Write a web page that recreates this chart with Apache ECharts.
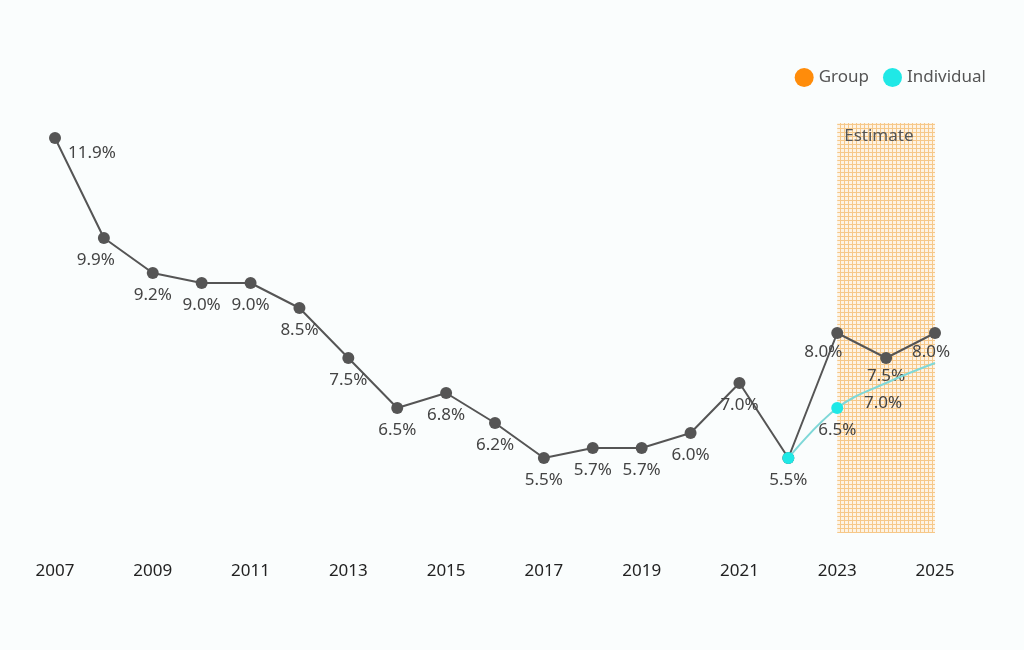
<!DOCTYPE html>
<html>
<head>
<meta charset="utf-8">
<script src="https://cdn.jsdelivr.net/npm/echarts@6/dist/echarts.min.js"></script>
<style>
  html, body { margin: 0; padding: 0; background: #fafdfd; }
  #chart { width: 1024px; height: 650px; }
</style>
</head>
<body>
<div id="chart"></div>
<script>
// years on the x axis
const years = ['2007', '2008', '2009', '2010', '2011', '2012', '2013', '2014', '2015', '2016',
  '2017', '2018', '2019', '2020', '2021', '2022', '2023', '2024', '2025']
// group rate (%)
const groupValues = [11.9, 9.9, 9.2, 9.0, 9.0, 8.5, 7.5, 6.5, 6.8, 6.2, 5.5, 5.7, 5.7, 6.0, 7.0, 5.5, 8.0, 7.5, 8.0]
// individual rate (%), only from 2022
const individualValues = [null, null, null, null, null, null, null, null, null, null,
  null, null, null, null, null, 5.5, 6.5, 7.0, 7.4]
// estimate band
const estimateFrom = '2023'
const estimateTo = '2025'

// orange grid pattern for the estimate band
const makePattern = () => {
  const c = document.createElement('canvas')
  c.width = 4
  c.height = 4
  const ctx = c.getContext('2d')
  ctx.fillStyle = '#fdf3e4'
  ctx.fillRect(0, 0, 4, 4)
  ctx.fillStyle = '#f6c889'
  ctx.fillRect(0, 0, 4, 1)
  ctx.fillRect(0, 0, 1, 4)
  return c
}

const chart = echarts.init(document.getElementById('chart'))
const fmt = (p) => p.value.toFixed(1) + '%'
const labelStyle = { show: true, position: 'bottom', distance: 8, color: '#444', fontSize: 17, fontFamily: 'Noto Sans', formatter: fmt }

// group points, some labels nudged like the original
const groupData = groupValues.map((v, i) => {
  if (i === 0) return { value: v, label: { offset: [37, -7] } }
  if (i === 1) return { value: v, label: { offset: [-8, 0] } }
  if (i === 16) return { value: v, label: { offset: [-14, -3] } }
  if (i === 17) return { value: v, label: { offset: [0, -4] } }
  if (i === 18) return { value: v, label: { offset: [-4, -3] } }
  return v
})
// individual points: no label at 2022 (shared with group), no markers after 2023
const individualData = individualValues.map((v, i) => {
  if (i === 15) return { value: v, label: { show: false } }
  if (i === 17) return { value: v, symbolSize: 0, label: { offset: [-3, 4] } }
  if (i === 18) return { value: v, symbolSize: 0, label: { show: false } }
  return v
})

const option = {
  backgroundColor: '#fafdfd',
  textStyle: { fontFamily: 'Noto Sans' },
  legend: {
    top: 63,
    right: 33,
    icon: 'circle',
    itemWidth: 19,
    itemHeight: 19,
    itemGap: 14,
    textStyle: { color: '#555', fontSize: 17 },
    data: [
      { name: 'Group', itemStyle: { color: '#ff8c0a' } },
      { name: 'Individual', itemStyle: { color: '#1fe8e6' } }
    ]
  },
  grid: { left: 55, right: 89, top: 123, bottom: 117 },
  xAxis: {
    type: 'category',
    data: years,
    boundaryGap: false,
    axisLine: { show: false },
    axisTick: { show: false },
    axisLabel: { interval: 1, color: '#222', fontSize: 17, margin: 30 }
  },
  yAxis: {
    type: 'value',
    min: 4,
    max: 12.2,
    show: false,
    splitLine: { show: false }
  },
  series: [
    {
      name: 'Group',
      type: 'line',
      data: groupData,
      symbol: 'circle',
      symbolSize: 12,
      lineStyle: { color: '#555', width: 2 },
      itemStyle: { color: '#555' },
      label: labelStyle,
      z: 3,
      markArea: {
        silent: true,
        itemStyle: { color: { image: makePattern(), repeat: 'repeat' } },
        label: { show: true, position: 'insideTopLeft', color: '#555', fontSize: 17, offset: [2, 0] },
        data: [[{ name: 'Estimate', xAxis: estimateFrom }, { xAxis: estimateTo }]]
      }
    },
    {
      name: 'Individual',
      type: 'line',
      data: individualData,
      smooth: 0.4,
      symbol: 'circle',
      symbolSize: 12,
      lineStyle: { color: '#7fd8d8', width: 2 },
      itemStyle: { color: '#1fe8e6' },
      label: labelStyle,
      z: 4
    }
  ]
}
chart.setOption(option)
</script>
</body>
</html>
